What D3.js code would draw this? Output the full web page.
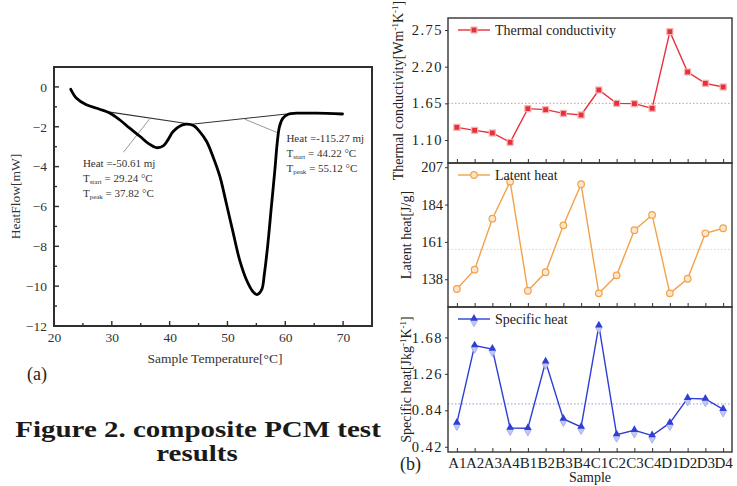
<!DOCTYPE html>
<html>
<head>
<meta charset="utf-8">
<script src="https://cdn.jsdelivr.net/npm/d3@7"></script>
<style>
  body { margin: 0; background: #fff; }
  svg text { font-family: "Liberation Serif", "Times New Roman", serif; }
</style>
</head>
<body>
<svg id="fig" width="737" height="486"></svg>
<script>
// ---- (a) DSC curve ----
const dscTemp = [22.9, 23.9, 25.6, 27.9, 29.7, 31.4, 33.1, 34.9, 36.3, 37.7, 38.9, 39.7, 40.6, 41.8, 42.9, 44.1, 45.2, 46.4, 47.5, 48.7, 49.8, 51.0, 52.1, 53.3, 54.4, 55.1, 55.9, 56.4, 57.0, 57.6, 58.2, 58.6, 59.0, 59.6, 60.5, 61.9, 65.4, 69.9];
const dscFlow = [-0.12, -0.57, -0.9, -1.12, -1.32, -1.66, -2.07, -2.49, -2.83, -3.05, -2.96, -2.66, -2.24, -1.96, -1.87, -1.94, -2.24, -2.74, -3.5, -4.5, -5.84, -7.34, -8.68, -9.69, -10.27, -10.42, -10.19, -9.35, -7.85, -6.0, -4.17, -2.83, -1.99, -1.57, -1.37, -1.32, -1.32, -1.36];
const baselinePts = [[29.1, -1.24], [43.8, -1.87], [60.2, -1.36]];
const leaderLeft = [[36.5, -1.62], [32.0, -3.28]];
const leaderRight = [[53.0, -1.62], [58.6, -2.29]];
const xTicksA = [20, 30, 40, 50, 60, 70];
const xMinorA = [25, 35, 45, 55, 65, 75];
const yTicksA = [0, -2, -4, -6, -8, -10, -12];
const yMinorA = [-11, -9, -7, -5, -3, -1];

// ---- (b) sample properties ----
const samples = ["A1", "A2", "A3", "A4", "B1", "B2", "B3", "B4", "C1", "C2", "C3", "C4", "D1", "D2", "D3", "D4"];
const thermalCond = [1.29, 1.245, 1.205, 1.065, 1.57, 1.555, 1.50, 1.475, 1.85, 1.65, 1.645, 1.575, 2.725, 2.12, 1.95, 1.895];
const latentHeat = [132.0, 143.9, 175.3, 198.1, 130.9, 142.3, 171.2, 196.5, 129.3, 140.4, 168.2, 177.6, 129.3, 138.3, 166.3, 169.4];
const specificHeat = [0.695, 1.585, 1.546, 0.637, 0.633, 1.40, 0.741, 0.649, 1.815, 0.56, 0.61, 0.549, 0.695, 0.978, 0.971, 0.852];
const thermalMean = 1.65, latentMean = 156.4, specificMean = 0.914;
const thermalTicks = [1.10, 1.65, 2.20, 2.75];
const latentTicks = [138, 161, 184, 207];
const specificTicks = [0.42, 0.84, 1.26, 1.68];

const svg = d3.select("#fig");
const FRAME = "#333";

// ================= chart (a) =================
const A = { left: 54, right: 372, top: 67, bottom: 326 };
const xA = d3.scaleLinear().domain([20, 75]).range([A.left, A.right]);
const yA = d3.scaleLinear().domain([-12, 1]).range([A.bottom, A.top]);

const ga = svg.append("g");
const lineA = d3.line().x(d => xA(d[0])).y(d => yA(d[1]));

ga.append("path").datum(baselinePts).attr("d", lineA)
  .attr("fill", "none").attr("stroke", "#333").attr("stroke-width", 1.1);
ga.append("path").datum(leaderLeft).attr("d", lineA)
  .attr("fill", "none").attr("stroke", "#999").attr("stroke-width", 1);
ga.append("path").datum(leaderRight).attr("d", lineA)
  .attr("fill", "none").attr("stroke", "#999").attr("stroke-width", 1);

const dscPts = dscTemp.map((t, i) => [t, dscFlow[i]]);
ga.append("path").datum(dscPts)
  .attr("d", d3.line().x(d => xA(d[0])).y(d => yA(d[1])).curve(d3.curveCatmullRom.alpha(0.5)))
  .attr("fill", "none").attr("stroke", "#000").attr("stroke-width", 2.8)
  .attr("stroke-linejoin", "round").attr("stroke-linecap", "round");

function annot(x, y, heat, tstart, tpeak) {
  const g = ga.append("g").attr("font-size", 11).attr("fill", "#333");
  g.append("text").attr("x", x).attr("y", y).text(`Heat =${heat} mj`);
  const t1 = g.append("text").attr("x", x).attr("y", y + 15);
  t1.append("tspan").text("T");
  t1.append("tspan").attr("font-size", 7).attr("dy", 2).text("start");
  t1.append("tspan").attr("dy", -2).text(` = ${tstart} °C`);
  const t2 = g.append("text").attr("x", x).attr("y", y + 29.5);
  t2.append("tspan").text("T");
  t2.append("tspan").attr("font-size", 7).attr("dy", 2).text("peak");
  t2.append("tspan").attr("dy", -2).text(` = ${tpeak} °C`);
}
annot(xA(25.0), yA(-4.03), "-50.61", "29.24", "37.82");
annot(xA(60.2), yA(-2.78), "-115.27", "44.22", "55.12");

ga.append("text").attr("x", (A.left + A.right) / 2 + 2).attr("y", 363)
  .attr("text-anchor", "middle").attr("font-size", 13.5).attr("fill", "#333")
  .text("Sample Temperature[°C]");
ga.append("text").attr("transform", `translate(20,${(A.top + A.bottom) / 2}) rotate(-90)`)
  .attr("text-anchor", "middle").attr("font-size", 13.5).attr("fill", "#333")
  .text("HeatFlow[mW]");
ga.append("text").attr("x", 27).attr("y", 380).attr("font-size", 18).attr("fill", "#222").text("(a)");

// tick labels of (a) from d3 axes (tick lines hidden, drawn below as filled bars)
const axX = ga.append("g").attr("transform", `translate(0,${A.bottom})`)
  .call(d3.axisBottom(xA).tickValues(xTicksA).tickSize(0).tickPadding(6).tickFormat(d3.format("d")));
const axY = ga.append("g").attr("transform", `translate(${A.left},0)`)
  .call(d3.axisLeft(yA).tickValues(yTicksA).tickSize(0).tickPadding(7).tickFormat(d3.format("d")));
[axX, axY].forEach(ax => {
  ax.selectAll(".domain").remove();
  ax.selectAll(".tick line").remove();
  ax.selectAll("text").attr("font-size", 13.5).style("fill", "#333");
});

// frame and inward ticks of (a) as filled bars
const fr = svg.append("g").attr("fill", "#2e2e2e");
const FW = 2;
fr.append("rect").attr("x", A.left - FW / 2).attr("y", A.top - FW / 2).attr("width", A.right - A.left + FW).attr("height", FW);
fr.append("rect").attr("x", A.left - FW / 2).attr("y", A.bottom - FW / 2).attr("width", A.right - A.left + FW).attr("height", FW);
fr.append("rect").attr("x", A.left - FW / 2).attr("y", A.top - FW / 2).attr("width", FW).attr("height", A.bottom - A.top + FW);
fr.append("rect").attr("x", A.right - FW / 2).attr("y", A.top - FW / 2).attr("width", FW).attr("height", A.bottom - A.top + FW);
fr.selectAll(".xt").data(xTicksA.map(v => [v, 5]).concat(xMinorA.map(v => [v, 3]))).join("rect")
  .attr("x", d => xA(d[0]) - 0.7).attr("y", d => A.bottom - d[1]).attr("width", 1.4).attr("height", d => d[1]);
fr.selectAll(".yt").data(yTicksA.map(v => [v, 5]).concat(yMinorA.map(v => [v, 3]))).join("rect")
  .attr("x", A.left).attr("y", d => yA(d[0]) - 0.7).attr("width", d => d[1]).attr("height", 1.4);

// caption (the source picture is stretched sideways)
const cap = svg.append("g").attr("font-size", 23).attr("font-weight", "bold")
  .attr("fill", "#1a1a1a").attr("text-anchor", "middle");
cap.append("text").attr("transform", "translate(198,437) scale(1.26,1)").text("Figure 2. composite PCM test");
cap.append("text").attr("transform", "translate(197,461) scale(1.26,1)").text("results");

// ================= chart (b) =================
const B = { left: 448, right: 732 };
const xB = d3.scalePoint().domain(samples).range([B.left, B.right]).padding(0.5);

const panels = [
  { top: 18, bottom: 163, domain: [0.755, 2.93], values: thermalCond, mean: thermalMean, ticks: thermalTicks,
    fmt: d3.format(".2f"), spacing: 1.5, color: "#e8303a", meanColor: "#f08a8a", name: "Thermal conductivity", marker: "square",
    label: ["Thermal conductivity[Wm", "-1", "K", "-1", "]"], labelX: 403 },
  { top: 163, bottom: 307, domain: [120.9, 209.6], values: latentHeat, mean: latentMean, ticks: latentTicks,
    fmt: d3.format("d"), spacing: 0, color: "#f2a24a", meanColor: "#f4cf9f", name: "Latent heat", marker: "circle",
    label: ["Latent heat[J/g]"], labelX: 411 },
  { top: 307, bottom: 452, domain: [0.36, 2.03], values: specificHeat, mean: specificMean, ticks: specificTicks,
    fmt: d3.format(".2f"), spacing: 1.5, color: "#2f3fd6", meanColor: "#8f99ea", name: "Specific heat", marker: "triangle",
    label: ["Specific heat[Jkg", "-1", "K", "-1", "]"], labelX: 411 }
];

function drawMarker(g, kind, color, x, y) {
  if (kind === "square") {
    g.append("rect").attr("x", x - 3).attr("y", y - 3).attr("width", 6).attr("height", 6)
      .attr("fill", color).attr("stroke", "#f6b4b4").attr("stroke-width", 1.2);
  } else if (kind === "circle") {
    g.append("circle").attr("cx", x).attr("cy", y).attr("r", 3.3)
      .attr("fill", "#fde6cc").attr("stroke", color).attr("stroke-width", 1.2);
  } else {
    g.append("path").attr("transform", `translate(${x},${y + 2.5})`)
      .attr("d", d3.symbol(d3.symbolDiamond, 30)()).attr("fill", "#c3c9f4").attr("stroke", "#9aa3ea").attr("stroke-width", 0.8);
    g.append("path").attr("transform", `translate(${x},${y - 0.5})`)
      .attr("d", d3.symbol(d3.symbolTriangle, 26)()).attr("fill", color);
  }
}

panels.forEach((p, pi) => {
  const y = d3.scaleLinear().domain(p.domain).range([p.bottom, p.top]);
  const g = svg.append("g");

  g.append("line").attr("x1", B.left).attr("x2", B.right)
    .attr("y1", y(p.mean)).attr("y2", y(p.mean))
    .attr("stroke", p.meanColor).attr("stroke-width", 1).attr("stroke-dasharray", "1.5,2");

  const ay = g.append("g").attr("transform", `translate(${B.left},0)`)
    .call(d3.axisLeft(y).tickValues(p.ticks).tickSize(3).tickPadding(2).tickFormat(p.fmt));
  ay.attr("color", FRAME);
  ay.select(".domain").remove();
  ay.selectAll("text").attr("font-size", 14.5).attr("fill", "#222").attr("letter-spacing", p.spacing);

  const ax = g.append("g").attr("transform", `translate(0,${p.bottom})`)
    .call(d3.axisBottom(xB).tickSize(-4).tickPadding(5).tickFormat(pi === 2 ? null : ""));
  ax.attr("color", FRAME);
  ax.select(".domain").remove();
  ax.selectAll("text").attr("font-size", 15).attr("fill", "#222");

  g.append("rect").attr("x", B.left).attr("y", p.top)
    .attr("width", B.right - B.left).attr("height", p.bottom - p.top)
    .attr("fill", "none").attr("stroke", FRAME).attr("stroke-width", 1.4);

  g.append("path").datum(p.values)
    .attr("d", d3.line().x((d, i) => xB(samples[i])).y(d => y(d)))
    .attr("fill", "none").attr("stroke", p.color).attr("stroke-width", 1.4);

  p.values.forEach((v, i) => drawMarker(g, p.marker, p.color, xB(samples[i]), y(v)));

  const ly = p.top + 12;
  g.append("line").attr("x1", 458).attr("x2", 490).attr("y1", ly).attr("y2", ly)
    .attr("stroke", p.color).attr("stroke-width", 1.4);
  drawMarker(g, p.marker, p.color, 474, ly);
  g.append("text").attr("x", 495).attr("y", ly + 5).attr("font-size", 14).attr("fill", "#222").text(p.name);

  const lbl = g.append("text")
    .attr("transform", `translate(${p.labelX},${(p.top + p.bottom) / 2}) rotate(-90)`)
    .attr("text-anchor", "middle").attr("font-size", 14).attr("fill", "#222");
  p.label.forEach((part, k) => {
    const sup = k % 2 === 1;
    lbl.append("tspan").attr("font-size", sup ? 9 : 14).attr("dy", sup ? -5 : (k > 0 ? 5 : 0)).text(part);
  });
});

svg.append("text").attr("x", (B.left + B.right) / 2).attr("y", 482)
  .attr("text-anchor", "middle").attr("font-size", 14).attr("fill", "#222").text("Sample");
svg.append("text").attr("x", 400).attr("y", 470).attr("font-size", 18).attr("fill", "#222").text("(b)");
</script>
</body>
</html>
